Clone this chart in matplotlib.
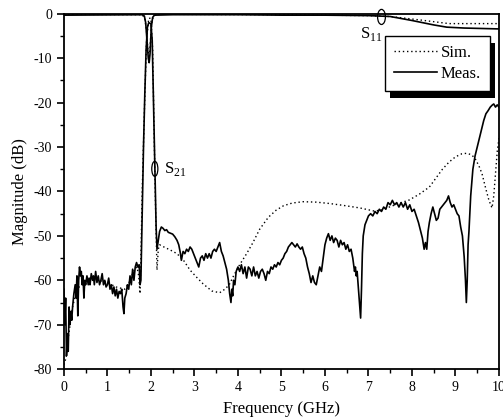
import numpy as np
import matplotlib
matplotlib.use("Agg")
import matplotlib.pyplot as plt
from matplotlib.patches import Ellipse, Rectangle

plt.rcParams['font.family'] = ['Liberation Serif', 'DejaVu Serif']
plt.rcParams['mathtext.fontset'] = 'custom'
plt.rcParams['mathtext.rm'] = 'Liberation Serif'
plt.rcParams['axes.unicode_minus'] = False

# measured S21 (GHz, dB)
f_s21_meas = [0.00, 0.02, 0.04, 0.06, 0.08, 0.10, 0.12, 0.14, 0.16, 0.18, 0.20, 0.23, 0.26, 0.28,
              0.30, 0.32, 0.34, 0.36, 0.38, 0.40, 0.42, 0.44, 0.46, 0.48, 0.50, 0.53, 0.56, 0.58,
              0.60, 0.63, 0.66, 0.68, 0.70, 0.73, 0.76, 0.79, 0.82, 0.85, 0.88, 0.91, 0.94, 0.97,
              1.00, 1.03, 1.06, 1.09, 1.12, 1.15, 1.18, 1.21, 1.24, 1.27, 1.30, 1.33, 1.36, 1.38,
              1.40, 1.43, 1.46, 1.49, 1.52, 1.55, 1.58, 1.61, 1.64, 1.67, 1.70, 1.73, 1.75, 1.77,
              1.80, 1.83, 1.86, 1.89, 1.92, 1.95, 2.00, 2.03, 2.06, 2.09, 2.12, 2.14, 2.17, 2.20,
              2.24, 2.28, 2.32, 2.36, 2.40, 2.45, 2.50, 2.55, 2.60, 2.64, 2.68, 2.70, 2.74, 2.78,
              2.82, 2.86, 2.90, 2.94, 2.98, 3.02, 3.06, 3.10, 3.14, 3.18, 3.22, 3.26, 3.30, 3.34,
              3.38, 3.42, 3.46, 3.50, 3.54, 3.58, 3.62, 3.66, 3.70, 3.74, 3.78, 3.81, 3.84, 3.86,
              3.88, 3.90, 3.93, 3.96, 4.00, 4.04, 4.08, 4.12, 4.16, 4.20, 4.24, 4.28, 4.32, 4.36,
              4.40, 4.44, 4.48, 4.52, 4.56, 4.60, 4.64, 4.68, 4.72, 4.76, 4.80, 4.84, 4.88, 4.92,
              4.96, 5.00, 5.04, 5.08, 5.12, 5.16, 5.20, 5.24, 5.28, 5.32, 5.36, 5.40, 5.44, 5.48,
              5.52, 5.56, 5.60, 5.64, 5.68, 5.72, 5.76, 5.80, 5.84, 5.88, 5.92, 5.96, 6.00, 6.04,
              6.08, 6.12, 6.16, 6.20, 6.24, 6.28, 6.32, 6.36, 6.40, 6.44, 6.48, 6.52, 6.56, 6.60,
              6.64, 6.68, 6.70, 6.72, 6.74, 6.77, 6.80, 6.82, 6.84, 6.86, 6.88, 6.92, 6.96, 7.00,
              7.05, 7.10, 7.15, 7.20, 7.25, 7.30, 7.35, 7.40, 7.45, 7.50, 7.55, 7.60, 7.65, 7.70,
              7.75, 7.80, 7.85, 7.90, 7.95, 8.00, 8.05, 8.10, 8.15, 8.20, 8.24, 8.28, 8.31, 8.34,
              8.37, 8.40, 8.44, 8.48, 8.52, 8.56, 8.60, 8.64, 8.68, 8.72, 8.76, 8.80, 8.84, 8.88,
              8.92, 8.96, 9.00, 9.04, 9.08, 9.12, 9.16, 9.20, 9.23, 9.25, 9.27, 9.29, 9.31, 9.35,
              9.40, 9.45, 9.50, 9.55, 9.60, 9.65, 9.70, 9.75, 9.80, 9.85, 9.88, 9.92, 9.96, 10.0]
s21_meas = [-62, -70, -64, -77, -72, -76, -66, -70, -67, -69, -66, -63, -61, -64,
            -59, -68, -60, -57, -59, -58, -61, -59, -64, -60, -61, -59, -61, -59.5,
            -61, -58.5, -60, -59, -61, -58, -60.5, -59, -61, -60, -58.5, -61, -60, -61.5,
            -61, -59.5, -62, -61, -63, -61.5, -63.5, -62, -64, -62.5, -63, -62, -66, -67.5,
            -64, -63, -61, -62, -59, -61, -57.5, -60, -57, -56, -57, -56.5, -61, -60,
            -45, -30, -18, -8, -3, -2, -2.2, -6, -20, -35, -48, -53, -51, -49,
            -48, -48.3, -48.8, -48.6, -49.2, -49.4, -49.6, -50.2, -51, -52, -54, -55.5, -53.5, -54,
            -53, -53.5, -52.5, -53, -54, -55, -56, -57, -55, -54.5, -55.5, -54, -55, -54,
            -55, -53.5, -53, -53.5, -52.5, -51.5, -53.5, -54.5, -56, -57.5, -60, -63, -65, -62,
            -63.5, -60, -61, -58, -57, -58, -56.5, -58.5, -57, -59.5, -57, -57.5, -59, -57,
            -59, -58, -59.5, -58, -57.5, -58.5, -60, -58, -58.5, -57, -57.5, -56.5, -57, -56,
            -56.5, -55.5, -55, -54, -53.5, -52.5, -52, -51.5, -52, -52.5, -51.8, -52.5, -53, -52.5,
            -54, -55, -57, -58.5, -60.5, -59, -60.5, -61, -59, -57, -58, -55, -52, -50.5,
            -49.5, -51, -50, -51.5, -50.5, -51, -52.5, -51, -52, -51.5, -53, -52, -53.5, -53,
            -55, -58, -57, -59, -58, -62, -66, -68.5, -62, -54, -50, -47.5, -46.5, -45.5,
            -45, -45.5, -44.5, -45, -44, -44.5, -43.5, -44, -42.5, -43, -42, -43, -42.5, -43.5,
            -42.5, -43.5, -42.5, -44, -43, -44.5, -44, -45.5, -47, -49, -50.5, -53, -51.5, -53,
            -49, -47, -45, -43.5, -45, -46.5, -46, -44, -43.5, -43, -42.5, -42, -41, -42.5,
            -43.5, -43, -44, -45, -45.5, -48, -50, -54.7, -60, -65, -60, -52, -49, -41,
            -35, -32, -30, -28, -26, -24, -22.5, -21.8, -21, -20.5, -20.3, -21, -20.5, -21]

# simulated S21
f_s21_sim = [0.00, 0.05, 0.10, 0.20, 0.30, 0.50, 0.80, 1.00, 1.20, 1.40, 1.50, 1.60, 1.68, 1.72,
             1.75, 1.77, 1.80, 1.85, 1.90, 1.95, 2.00, 2.04, 2.08, 2.11, 2.14, 2.17, 2.20, 2.30,
             2.45, 2.60, 2.75, 2.90, 3.05, 3.20, 3.40, 3.58, 3.70, 3.80, 3.90, 4.04, 4.20, 4.34,
             4.50, 4.70, 4.88, 5.05, 5.25, 5.50, 5.80, 6.10, 6.40, 6.80, 7.13, 7.30, 7.48, 7.70,
             7.94, 8.17, 8.40, 8.55, 8.70, 8.85, 9.00, 9.15, 9.27, 9.38, 9.47, 9.55, 9.61, 9.70,
             9.77, 9.84, 9.88, 9.92, 9.96, 10.0]
s21_sim = [-79, -77.5, -73, -66, -62, -60, -60, -60.5, -61.5, -62, -60.5, -58, -57, -59,
           -63, -55, -40, -22, -6, -1, -1, -8, -30, -45, -57.7, -53, -52, -52.5,
           -53.2, -54, -55.5, -57.7, -59.3, -60.8, -62.4, -62.8, -62, -61, -59, -56.5, -54, -51.6,
           -48.5, -45.8, -44.2, -43.2, -42.6, -42.3, -42.4, -42.7, -43.1, -43.7, -44.4, -44.2, -43.5, -42.7,
           -41.9, -40.6, -39, -37, -35, -33.4, -32.2, -31.5, -31.4, -31.8, -32.9, -34.5, -36, -39.5,
           -42, -43.7, -41, -36, -31, -28]

# measured S11
f_s11_meas = [0.0, 1.80, 1.85, 1.88, 1.91, 1.94, 1.96, 1.98, 2.01, 2.04, 2.08, 2.5, 3.0, 4.0,
              5.0, 6.0, 7.0, 7.5, 8.0, 8.5, 8.8, 9.2, 9.6, 10.0]
s11_meas = [-0.3, -0.2, -0.5, -2, -6, -10, -11, -9, -3, -0.8, -0.3, -0.2, -0.2, -0.2,
            -0.3, -0.3, -0.4, -0.6, -1.5, -2.5, -3, -3.2, -3.3, -3.4]

# simulated S11
f_s11_sim = [0.0, 1.80, 1.86, 1.90, 1.93, 1.96, 1.99, 2.02, 2.06, 2.2, 5.0, 7.0, 7.5, 8.2,
             8.85, 10.0]
s11_sim = [-0.1, -0.2, -1, -4, -8, -10, -6, -2, -0.4, -0.1, -0.2, -0.4, -0.6, -1.4,
           -2.2, -2.2]

fig = plt.figure(figsize=(5.03, 4.19), dpi=100)
ax = fig.add_axes([0.127, 0.119, 0.865, 0.848])

ax.plot(f_s21_sim, s21_sim, color='black', lw=1.0, ls=(0, (1, 2)), label='Sim.')
ax.plot(f_s21_meas, s21_meas, color='black', lw=1.2, label='Meas.')
ax.plot(f_s11_sim, s11_sim, color='black', lw=1.0, ls=(0, (1, 2)))
ax.plot(f_s11_meas, s11_meas, color='black', lw=1.2)

ax.set_xlim(0, 10)
ax.set_ylim(-80, 0)
ax.set_xticks(range(0, 11))
ax.set_xticks(np.arange(0.5, 10, 1), minor=True)
ax.set_yticks(range(-80, 1, 10))
ax.set_yticks(range(-75, 0, 10), minor=True)
ax.tick_params(which='major', direction='out', length=5, width=1.2, labelsize=10)
ax.tick_params(which='minor', direction='out', length=3, width=1.0)
for s in ax.spines.values():
    s.set_linewidth(1.3)

ax.set_xlabel('Frequency (GHz)', fontsize=12, labelpad=5)
ax.set_ylabel('Magnitude (dB)', fontsize=12, labelpad=4)

# S21 / S11 markers
ax.add_patch(Ellipse((2.09, -34.9), 0.14, 3.4, fill=False, lw=0.9, color='black'))
ax.text(2.3, -35, r'S$_{\mathrm{21}}$', fontsize=12, va='center', ha='left')
ax.add_patch(Ellipse((7.3, -0.7), 0.18, 3.4, fill=False, lw=0.9, color='black', clip_on=False))
ax.text(6.8, -4.6, r'S$_{\mathrm{11}}$', fontsize=12, va='center', ha='left')

leg = ax.legend(loc='upper right', bbox_to_anchor=(0.979, 0.938), borderaxespad=0,
                frameon=True, fancybox=False, edgecolor='black', framealpha=1, fontsize=12,
                handlelength=2.6, handletextpad=0.2, borderpad=0.55, labelspacing=0.3)
leg.get_frame().set_linewidth(1.0)
leg.set_zorder(5)

# black drop shadow behind legend box, offset down-right
fig.canvas.draw()
bb = leg.get_window_extent().transformed(ax.transAxes.inverted())
dx = 5 / ax.bbox.width
dy = 7 / ax.bbox.height
ax.add_patch(Rectangle((bb.x0 + dx, bb.y0 - dy), bb.width, bb.height, transform=ax.transAxes,
                       facecolor='black', edgecolor='none', zorder=4))

fig.savefig('out.png', dpi=100)
